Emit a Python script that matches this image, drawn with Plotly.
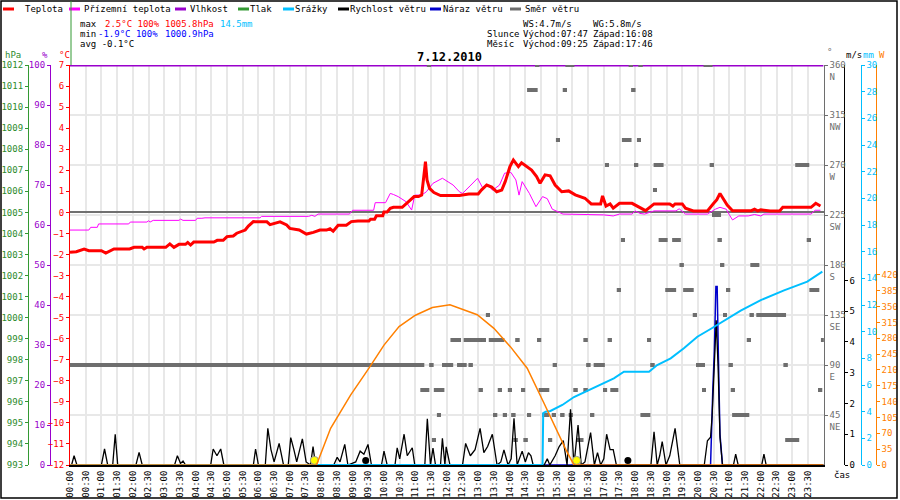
import plotly.graph_objects as go

# time axis in hours (0..24), 5 min samples
temp_t = [0, 0.2, 0.45, 0.6, 1.0, 1.14, 1.4, 1.9, 2.04, 2.3, 2.36, 2.45, 3.05, 3.18, 3.31, 3.47, 3.68, 3.75, 3.84,
          3.94, 4.58, 4.69, 4.88, 5.0, 5.2, 5.31, 5.58, 5.68, 5.84, 6.05, 6.27, 6.37, 6.69, 6.9, 7.0, 7.3, 7.53,
          7.75, 7.96, 8.17, 8.28, 8.38, 8.54, 8.8, 8.96, 9.17, 9.52, 9.57, 9.7, 9.76, 9.96, 10.0, 10.1, 10.2, 10.3,
          10.58, 10.69, 10.85, 10.96, 11.1, 11.2, 11.29, 11.32, 11.37, 11.45, 11.59, 11.8, 12.4, 12.7, 13.0, 13.1,
          13.27, 13.43, 13.59, 13.75, 13.86, 14.01, 14.12, 14.28, 14.38, 14.49, 14.7, 14.86, 14.97, 15.13, 15.29,
          15.45, 15.66, 15.88, 16.09, 16.4, 16.6, 16.9, 16.96, 17.07, 17.2, 17.3, 17.5, 17.9, 18.0, 18.17, 18.33,
          18.6, 19.1, 19.2, 19.27, 19.5, 19.6, 19.85, 20.3, 20.5, 20.6, 20.7, 20.84, 20.93, 21.1, 21.7, 21.8, 21.9,
          22.0, 22.3, 22.6, 22.7, 23.6, 23.75, 23.9]
temp_v = [-1.9, -1.87, -1.74, -1.82, -1.82, -1.93, -1.74, -1.74, -1.66, -1.66, -1.74, -1.66, -1.66, -1.5, -1.66,
          -1.52, -1.52, -1.43, -1.55, -1.41, -1.41, -1.33, -1.33, -1.15, -1.12, -0.99, -0.84, -0.65, -0.44, -0.45,
          -0.45, -0.58, -0.45, -0.6, -0.76, -0.84, -1.03, -0.95, -0.84, -0.84, -0.78, -0.89, -0.61, -0.61, -0.44,
          -0.41, -0.41, -0.33, -0.33, -0.16, -0.16, 0.02, 0.02, 0.19, 0.24, 0.24, 0.38, 0.62, 0.75, 0.75, 0.82, 2.0,
          2.41, 1.54, 1.14, 0.94, 0.8, 0.8, 0.87, 0.87, 1.06, 1.3, 1.2, 0.98, 1.06, 1.46, 2.17, 2.49, 2.17, 2.35,
          2.22, 2.01, 1.7, 1.38, 1.78, 1.74, 1.3, 0.98, 1.02, 0.83, 0.67, 0.4, 0.4, 0.78, 0.3, 0.4, 0.2, 0.43, 0.43,
          0.35, 0.19, 0.08, 0.4, 0.4, 0.3, 0.4, 0.4, 0.2, 0.07, 0.07, 0.43, 0.6, 0.9, 0.6, 0.35, 0.08, 0.08, 0.15,
          0.07, 0.12, 0.07, 0.07, 0.24, 0.24, 0.43, 0.3]

ground_t = [0, 0.6, 0.66, 0.87, 0.91, 1.87, 1.92, 2.45, 2.5, 2.55, 2.65, 3.47, 3.52, 3.6, 4.0, 4.05, 4.2, 4.3, 6.05,
            6.1, 7.6, 7.7, 7.8, 7.9, 8.9, 9.0, 9.67, 9.72, 10.05, 10.2, 10.3, 10.45, 10.7, 10.88, 10.98, 11.2, 11.35,
            11.56, 11.86, 12.0, 12.2, 12.4, 12.5, 12.77, 12.98, 13.15, 13.3, 13.46, 13.68, 13.84, 14.04, 14.2, 14.3,
            14.4, 14.63, 14.84, 15.05, 15.2, 15.36, 15.7, 16.5, 17.0, 17.3, 17.5, 17.9, 18.0, 18.15, 18.3, 18.6,
            19.3, 19.4, 19.6, 20.3, 20.55, 20.7, 20.9, 21.0, 21.1, 21.3, 21.6, 21.8, 22.0, 22.1, 23.6, 23.73, 23.9]
ground_v = [-0.84, -0.84, -0.71, -0.71, -0.55, -0.55, -0.46, -0.46, -0.4, -0.46, -0.38, -0.38, -0.32, -0.38,
            -0.38, -0.28, -0.28, -0.26, -0.26, -0.19, -0.19, -0.14, -0.19, -0.08, -0.08, 0.1, 0.1, 0.46, 0.46, 0.9,
            0.85, 0.75, 0.51, 0.11, 0.82, 0.82, 0.98, 1.38, 1.62, 1.5, 1.3, 0.98, 0.9, 1.3, 1.62, 1.14, 1.3, 1.05,
            1.3, 1.86, 1.9, 1.54, 0.82, 1.46, 0.9, 0.27, 0.75, 0.65, 0.15, -0.08, -0.1, -0.12, -0.17, -0.08, -0.08,
            0.07, -0.05, -0.08, 0.07, 0.07, 0.17, -0.08, -0.08, 0.15, 0.24, 0.15, -0.12, -0.36, -0.17, -0.17, -0.1,
            -0.17, -0.08, -0.08, 0.1, 0.1]

hum_t = [0, 24]
hum_v = [100, 100]

# pressure is listed in the legend but has no curve in the picture
pres_t = []
pres_v = []

wind_t = [0, 0.05, 0.13, 0.22, 1.0, 1.1, 1.2, 1.36, 1.44, 1.52, 2.1, 2.2, 2.3, 3.33, 3.42, 3.52, 3.6, 3.68, 4.48,
          4.56, 4.68, 4.8, 4.9, 5.84, 5.91, 6.0, 6.22, 6.3, 6.4, 6.5, 6.66, 6.8, 6.95, 7.03, 7.13, 7.22, 7.4, 7.52,
          7.66, 7.74, 7.82, 8.4, 8.51, 8.6, 8.75, 8.85, 9.1, 9.24, 9.36, 9.49, 9.6, 9.92, 10.0, 10.1, 10.35, 10.42,
          10.5, 10.64, 10.74, 10.9, 10.98, 11.3, 11.38, 11.48, 11.56, 11.64, 11.8, 11.86, 11.94, 11.98, 12.1, 12.5,
          12.6, 12.75, 12.9, 13.06, 13.18, 13.3, 13.45, 13.6, 13.72, 13.82, 13.95, 14.05, 14.14, 14.24, 14.4, 14.5,
          14.6, 14.68, 14.75, 15.1, 15.2, 15.28, 15.45, 15.58, 15.71, 15.83, 15.94, 16.05, 16.18, 16.28, 16.4,
          16.58, 16.7, 16.8, 16.9, 17.0, 17.09, 17.2, 17.3, 17.4, 18.5, 18.6, 18.7, 18.78, 18.86, 18.98, 19.1,
          19.27, 19.42, 20.2, 20.3, 20.4, 20.45, 20.52, 20.58, 20.64, 20.7, 20.78, 21.13, 21.2, 21.28, 22.03, 22.1,
          22.17, 24]
wind_v = [0, 0, 0.3, 0, 0, 0.52, 0, 0, 1.0, 0, 0, 0.41, 0, 0, 0.3, 0.05, 0.13, 0, 0, 0.52, 0.3, 0.52, 0, 0, 0.52,
          0, 0, 1.19, 0.5, 0.1, 0.7, 0, 0, 0.89, 0.5, 0.1, 0.85, 0.1, 0, 0.6, 0, 0, 0.25, 0.1, 0.67, 0, 0.1, 0.45,
          0.35, 0.67, 0, 0, 0.45, 0, 0, 0.56, 0.2, 1.0, 0.3, 0.56, 0, 0, 1.5, 0, 0.55, 0, 0, 0.87, 0, 0.59, 0, 0,
          0.7, 0.3, 0.5, 1.19, 0.4, 0.6, 1.0, 0, 0.1, 0.49, 0, 0.2, 1.52, 0, 0.45, 0.1, 0.4, 0.3, 0, 0, 0.2, 0, 0.3,
          0.6, 0.79, 0, 1.81, 0, 1.3, 0, 0.1, 1.05, 0, 0.4, 0, 0.2, 1.0, 0.5, 0.5, 0, 0, 1.08, 0, 0.3, 0.76, 0, 0.3,
          1.19, 0, 0, 0.79, 0.9, 1.6, 3.2, 4.7, 3.2, 0.9, 0, 0, 0.35, 0, 0, 0.35, 0, 0]

gust_t = [0, 20.4, 20.47, 20.52, 20.57, 20.61, 20.65, 20.7, 20.78, 24]
gust_v = [0, 0, 2.4, 3.7, 5.8, 5.8, 3.5, 1.0, 0, 0]

rain_t = [0, 15.05, 15.07, 15.15, 15.3, 15.68, 16.05, 16.47, 16.9, 17.32, 17.64, 18.44, 18.7, 19.13, 19.55, 19.98,
          20.4, 20.72, 21.36, 22.0, 22.74, 23.48, 23.96]
rain_v = [0, 0, 3.9, 4.0, 4.05, 4.5, 5.1, 5.57, 6.0, 6.5, 7.0, 7.0, 7.5, 8.0, 8.75, 9.62, 10.2, 10.67, 11.57, 12.37,
          13.1, 13.75, 14.5]

sol_t = [0, 7.85, 8.3, 8.62, 8.94, 9.5, 10.0, 10.48, 11.0, 11.54, 12.1, 12.97, 13.5, 14.03, 14.56, 15.1, 15.5,
         15.8, 16.05, 24]
sol_v = [0, 0, 81, 118, 155, 212, 265, 306, 331, 348, 354, 332, 302, 261, 214, 136, 77, 33, 0, 0]

# wind direction, runs of equal samples (start h, end h, degrees)
dir_start = [11.43, 14.88, 15.84, 17.86, 18.17, 20.24,
             14.62, 15.76, 17.94,
             15.54, 17.64, 18.12,
             17.1, 18.03, 18.65, 20.44, 23.16,
             18.63,
             20.51,
             17.61, 18.81, 19.24, 20.69, 23.53,
             19.48, 20.77, 21.73,
             17.48, 19.02, 19.59, 20.96, 23.61,
             13.31, 19.9, 20.86, 21.71, 21.92,
             12.18, 12.6, 12.83, 13.18, 13.4, 14.25, 14.94, 16.42, 17.19, 18.44, 21.62, 23.98,
             0, 11.51, 11.91, 12.39, 12.76, 15.44, 16.51, 16.74, 18.55, 20.0, 21.04, 22.79,
             11.22, 11.65, 13.08, 13.69, 14.01, 14.43, 14.99, 16.1, 16.42, 17.04, 17.27, 20.19, 21.11, 23.89,
             11.75, 13.54, 13.85, 14.12, 14.62, 15.1, 15.41, 15.68, 15.95, 16.63, 18.23, 21.15,
             11.59, 14.19, 14.51, 15.29, 16.21, 22.84]
dir_end = [11.43, 14.88, 16.0, 17.86, 18.17, 20.4,
           14.83, 15.76, 17.94,
           15.54, 17.82, 18.12,
           17.1, 18.03, 18.84, 20.44, 23.48,
           18.63,
           20.67,
           17.61, 18.97, 19.39, 20.69, 23.53,
           19.48, 20.77, 21.89,
           17.48, 19.24, 19.8, 20.96, 23.8,
           13.31, 19.9, 20.86, 21.71, 22.74,
           12.39, 12.71, 13.08, 13.18, 13.77, 14.25, 14.94, 16.42, 17.19, 18.44, 21.62, 23.98,
           11.22, 11.51, 12.14, 12.57, 12.76, 15.44, 16.51, 16.97, 18.55, 20.16, 21.04, 22.79,
           11.38, 11.86, 13.08, 13.69, 14.01, 14.43, 15.2, 16.1, 16.42, 17.04, 17.4, 20.19, 21.11, 23.89,
           11.75, 13.54, 13.85, 14.12, 14.62, 15.2, 15.41, 15.68, 15.95, 16.63, 18.42, 21.57,
           11.59, 14.19, 14.51, 15.29, 16.29, 23.16]
dir_deg = [360] * 6 + [337.5] * 3 + [292.5] * 3 + [270] * 5 + [247.5] + [225] + [202.5] * 5 + [180] * 3 + \
          [157.5] * 5 + [135] * 5 + [112.5] * 12 + [90] * 12 + [67.5] * 14 + [45] * 12 + [22.5] * 6

sun_t = [7.783, 16.133]   # 07:47, 16:08
moon_t = [9.417, 17.767]  # 09:25, 17:46

time_labels = ['%02d:%02d' % (h, m) for h in range(24) for m in (0, 30)]
time_ticks = [i * 0.5 for i in range(48)]

RED = '#ff0000'
MAGENTA = '#ff00ff'
PURPLE = '#9900cc'
GREEN = '#339933'
CYAN = '#00bfff'
NAVY = '#0000cc'
GREY = '#6e6e6e'
ORANGE = '#ff8000'
FONT = 'DejaVu Sans Mono'


def px_x(x):
    return x / 900


def px_y(y):
    return (465 - y) / 400


fig = go.Figure()

# wind direction as square dots / runs
dx, dy = [], []
for s, e, d in zip(dir_start, dir_end, dir_deg):
    dx += [s, e, None]
    dy += [d, d, None]
fig.add_trace(go.Scatter(x=dx, y=dy, yaxis='y4', mode='lines+markers',
                         line=dict(color=GREY, width=4),
                         marker=dict(symbol='square', size=4, color=GREY)))

fig.add_trace(go.Scatter(x=pres_t, y=pres_v, yaxis='y3', mode='lines', line=dict(color=GREEN, width=2)))
fig.add_trace(go.Scatter(x=hum_t, y=hum_v, yaxis='y2', mode='lines', line=dict(color=PURPLE, width=3)))
fig.add_trace(go.Scatter(x=sol_t, y=sol_v, yaxis='y7', mode='lines', line=dict(color=ORANGE, width=1.5)))
fig.add_trace(go.Scatter(x=rain_t, y=rain_v, yaxis='y6', mode='lines', line=dict(color=CYAN, width=2)))
fig.add_trace(go.Scatter(x=gust_t, y=gust_v, yaxis='y5', mode='lines', line=dict(color=NAVY, width=1.5)))
fig.add_trace(go.Scatter(x=wind_t, y=wind_v, yaxis='y5', mode='lines', line=dict(color='black', width=1.3)))
fig.add_trace(go.Scatter(x=ground_t, y=ground_v, yaxis='y', mode='lines', line=dict(color=MAGENTA, width=1)))
fig.add_trace(go.Scatter(x=temp_t, y=temp_v, yaxis='y', mode='lines', line=dict(color=RED, width=3)))
fig.add_trace(go.Scatter(x=sun_t, y=[0.15] * len(sun_t), yaxis='y5', mode='markers',
                         marker=dict(size=8, color='#ffff00', line=dict(color='#999999', width=1))))
fig.add_trace(go.Scatter(x=moon_t, y=[0.15] * len(moon_t), yaxis='y5', mode='markers',
                         marker=dict(size=7, color='black')))


def yax(color, rng, tickvals, **kw):
    d = dict(range=rng, tickvals=tickvals, showline=True, linecolor=color, linewidth=1.2,
             ticks='outside', ticklen=3, tickcolor=color, showgrid=False, zeroline=False,
             tickfont=dict(family=FONT, size=9, color=color), fixedrange=True, automargin=False)
    d.update(kw)
    return d


dir_names = ['NE', 'E', 'SE', 'S', 'SW', 'W', 'NW', 'N']
dir_vals = [45, 90, 135, 180, 225, 270, 315, 360]

fig.update_layout(
    width=900, height=500,
    margin=dict(l=0, r=0, t=65, b=35, autoexpand=False),
    paper_bgcolor='white', plot_bgcolor='white',
    showlegend=False,
    font=dict(family=FONT, size=9, color='black'),
    xaxis=dict(domain=[70 / 900, 823.6 / 900], range=[0, 24], tickvals=time_ticks, ticktext=time_labels,
               tickangle=-90, showgrid=True, gridcolor='#e8e8e8', gridwidth=1.5, showline=True,
               linecolor='black', linewidth=2, zeroline=False, ticks='', automargin=False,
               tickfont=dict(family=FONT, size=9, color='black'), fixedrange=True),
    yaxis=yax(RED, [-12, 7], list(range(-12, 8)), zeroline=True, zerolinecolor='#707070', zerolinewidth=1.5),
    yaxis2=yax(PURPLE, [0, 100], list(range(0, 101, 10)), overlaying='y', anchor='free',
               position=50 / 900, side='left'),
    yaxis3=yax(GREEN, [993, 1012], list(range(993, 1013)), overlaying='y', anchor='free',
               position=28 / 900, side='left', tickfont=dict(family=FONT, size=9, color='#2e8b2e')),
    yaxis4=yax(GREY, [0, 360], dir_vals, overlaying='y', anchor='x', side='right',
               ticktext=['%d<br>%s' % (v, n) for v, n in zip(dir_vals, dir_names)],
               showgrid=True, gridcolor='#e8e8e8', gridwidth=1.5, ticklabelshift=6),
    yaxis5=yax('black', [0, 13], list(range(0, 7)), overlaying='y', anchor='free',
               position=843.5 / 900, side='right'),
    yaxis6=yax(CYAN, [0, 30], list(range(0, 31, 2)), overlaying='y', anchor='free',
               position=860.5 / 900, side='right'),
    yaxis7=yax(ORANGE, [0, 884], list(range(0, 421, 35)), overlaying='y', anchor='free',
               position=875.7 / 900, side='right'),
)

annotations = []


def label(x, y, text, color='black', size=9, anchor='left', bold=False):
    if bold:
        text = '<b>' + text + '</b>'
    annotations.append(dict(xref='paper', yref='paper', x=px_x(x), y=px_y(y), text=text, showarrow=False,
                            xanchor=anchor, yanchor='middle', font=dict(family=FONT, size=size, color=color),
                            borderpad=0))


# legend row
legend_names = ['Teplota', 'Přízemní teplota', 'Vlhkost', 'Tlak', 'Srážky', 'Rychlost větru', 'Náraz větru',
                'Směr větru']
legend_colors = [RED, MAGENTA, PURPLE, GREEN, CYAN, 'black', NAVY, GREY]
legend_line_x = [3, 69, 175, 238, 283, 338, 430, 510]
legend_text_x = [24, 83, 189, 249, 294, 349, 442, 524]
shapes = []
for name, col, lx, tx in zip(legend_names, legend_colors, legend_line_x, legend_text_x):
    shapes.append(dict(type='line', xref='paper', yref='paper', x0=px_x(lx), x1=px_x(lx + 11),
                       y0=px_y(9), y1=px_y(9), line=dict(color=col, width=3)))
    label(tx, 9, name)

# stats block
label(79, 24, 'max')
label(104, 24, '2.5°C 100%', RED)
label(164, 24, '1005.8hPa', RED)
label(219, 24, '14.5mm', CYAN)
label(79, 34, 'min')
label(97, 34, '-1.9°C 100%', '#0000ff')
label(164, 34, '1000.9hPa', '#0000ff')
label(79, 44, 'avg -0.1°C')

label(522, 24, 'WS:4.7m/s')
label(592, 24, 'WG:5.8m/s')
label(486, 34, 'Slunce')
label(522, 34, 'Východ:07:47')
label(592, 34, 'Západ:16:08')
label(486, 44, 'Měsíc')
label(522, 44, 'Východ:09:25')
label(592, 44, 'Západ:17:46')

label(449, 57, '7.12.2010', size=12, anchor='center', bold=True)

# axis titles
label(4, 55, 'hPa', '#2e8b2e')
label(41, 55, '%', PURPLE)
label(58, 55, '°C', RED)
label(826, 52, '°', GREY)
label(845, 55, 'm/s')
label(862, 55, 'mm', CYAN)
label(878, 55, 'W', ORANGE)
label(833, 475, 'čas')

# frame and header separator
shapes.append(dict(type='rect', xref='paper', yref='paper', x0=px_x(1), x1=px_x(897), y0=px_y(498),
                   y1=px_y(1), line=dict(color='black', width=1.5)))
shapes.append(dict(type='line', xref='paper', yref='paper', x0=px_x(71), x1=px_x(71), y0=px_y(65),
                   y1=px_y(1), line=dict(color=GREEN, width=1)))

fig.update_layout(annotations=annotations, shapes=shapes)
fig.write_html('out.html', config={'displayModeBar': False},
               post_script="document.body.style.margin='0px';")
